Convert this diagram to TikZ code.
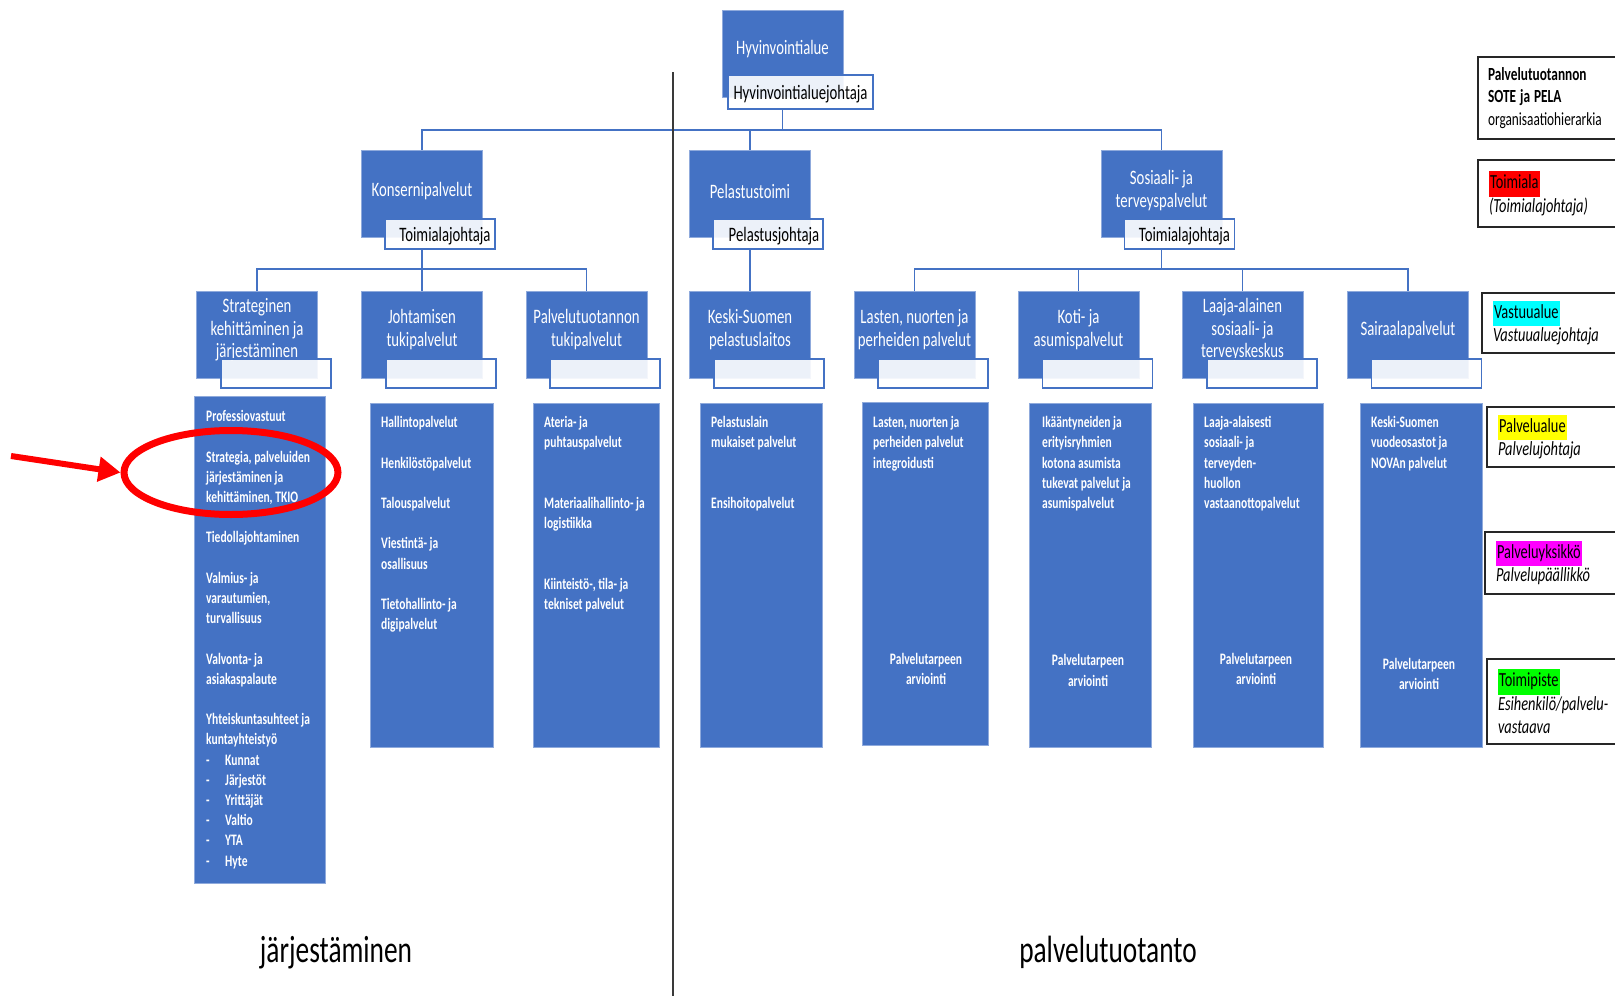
\documentclass[tikz,border=0pt]{standalone}
\usepackage{fontspec}
\setmainfont{Carlito}[FakeStretch=0.72]
\usetikzlibrary{shapes.geometric,arrows.meta,backgrounds}
\definecolor{ofblue}{HTML}{4472C4}
\definecolor{edgeblue}{HTML}{8FAADC}
\definecolor{divgray}{HTML}{3A3A3A}
\definecolor{hlred}{HTML}{FF0000}
\definecolor{hlcyan}{HTML}{00FFFF}
\definecolor{hlyellow}{HTML}{FFFF00}
\definecolor{hlmag}{HTML}{FF00FF}
\definecolor{hlgreen}{HTML}{00FF00}
\definecolor{ringred}{HTML}{FF0000}
\newcommand{\ttlfnt}{\fontsize{20.5}{22.5}\selectfont}
\newcommand{\colfnt}{\fontsize{16}{20.2}\selectfont\bfseries}
\newcommand{\legfnt}{\fontsize{20}{23.5}\selectfont}
\newcommand{\legfntA}{\fontsize{18.5}{22.5}\selectfont}
\newcommand{\botfnt}{\fontsize{38}{44}\selectfont}
\newcommand{\hlt}[2]{{\setlength{\fboxsep}{1pt}\colorbox{#1}{\strut#2}}}
\newcommand{\dashitem}[1]{\makebox[19pt][l]{-}#1}
\begin{document}
\begin{tikzpicture}[x=1pt,y=-1pt,
  bluebox/.style={fill=ofblue, draw=edgeblue, line width=0.8pt, inner sep=0pt, outer sep=0pt},
  lvbox/.style={bluebox, minimum width=121pt, minimum height=87pt},
  boxtitle/.style={text=white, font=\ttlfnt, align=center, inner sep=0pt},
  subbox/.style={fill=white, fill opacity=0.9, text opacity=1, draw=ofblue, line width=1.3pt,
     inner sep=0pt, outer sep=0pt, minimum width=110pt, minimum height=29pt, font=\ttlfnt, text=black,
     text height=19pt, text depth=4pt},
  conn/.style={draw=ofblue, line width=1.3pt},
  coltext/.style={text=white, font=\colfnt, align=left, inner sep=0pt, anchor=north west},
  colcenter/.style={text=white, font=\colfnt, align=center, inner sep=0pt},
  legbox/.style={draw=black!85, line width=1.6pt, fill=white, inner ysep=0pt, inner xsep=11pt,
     align=left, font=\legfnt, text=black},
  bottomlabel/.style={font=\botfnt, text=black, inner sep=0pt, anchor=base},
  divider/.style={draw=divgray, line width=1.8pt},
  ring/.style={draw=ringred, line width=7pt, ellipse, inner sep=0pt, minimum width=214pt, minimum height=84pt},
  redarrow/.style={draw=ringred, line width=6pt, -{Triangle[length=22pt,width=24pt]}}
]
\useasboundingbox (0,0) rectangle (1615,996);
\clip (0,0) rectangle (1615,996);

% ---------- top ----------
\node[lvbox] (top) at (782.5,53.5) {};
\node[boxtitle] (toptitle) at (782.5,49) {Hyvinvointialue};
\node[subbox, minimum width=145pt, minimum height=34pt] (topsub) at (800.5,92) {Hyvinvointialuejohtaja};

% ---------- level 2 ----------
\node[lvbox] (konserni) at (422,193.5) {};
\node[boxtitle] (konsernit) at (422,191) {Konsernipalvelut};
\node[subbox, minimum height=30pt] (konsub) at (440,234) {\hspace*{10pt}Toimialajohtaja};

\node[lvbox] (pelastus) at (750,193.5) {};
\node[boxtitle] (pelastust) at (750,191) {Pelastustoimi};
\node[subbox, minimum height=30pt] (pelsub) at (768,234) {\hspace*{12pt}Pelastusjohtaja};

\node[lvbox] (sosiaali) at (1161.5,193.5) {};
\node[boxtitle] (sosiaalit) at (1161.5,190.5) {Sosiaali- ja\\terveyspalvelut};
\node[subbox, minimum height=30pt] (sossub) at (1179.5,234) {\hspace*{10pt}Toimialajohtaja};

% ---------- level 3 ----------
\node[lvbox] (strat) at (257,334.5) {};
\node[boxtitle] (stratt) at (257,330) {Strateginen\\kehittäminen ja\\järjestäminen};
\node[subbox] (stratsub) at (276,373.5) {};

\node[lvbox] (johto) at (422,334.5) {};
\node[boxtitle] (johtot) at (422,329.5) {Johtamisen\\tukipalvelut};
\node[subbox] (johtosub) at (441,373.5) {};

\node[lvbox] (palvtuki) at (586.5,334.5) {};
\node[boxtitle] (palvtukit) at (586.5,329.5) {Palvelutuotannon\\tukipalvelut};
\node[subbox] (palvtukisub) at (605,373.5) {};

\node[lvbox] (kspel) at (750,334.5) {};
\node[boxtitle] (kspelt) at (750,329.5) {Keski-Suomen\\pelastuslaitos};
\node[subbox] (kspelsub) at (769,373.5) {};

\node[lvbox] (lasten) at (914.5,334.5) {};
\node[boxtitle] (lastent) at (914.5,329.5) {Lasten, nuorten ja\\perheiden palvelut};
\node[subbox] (lastensub) at (933,373.5) {};

\node[lvbox] (koti) at (1078.5,334.5) {};
\node[boxtitle] (kotit) at (1078.5,329.5) {Koti- ja\\asumispalvelut};
\node[subbox] (kotisub) at (1097.5,373.5) {};

\node[lvbox] (laaja) at (1242.5,334.5) {};
\node[boxtitle] (laajat) at (1242.5,330) {Laaja-alainen\\sosiaali- ja\\terveyskeskus};
\node[subbox] (laajasub) at (1262,373.5) {};

\node[lvbox] (sairaala) at (1408,334.5) {};
\node[boxtitle] (sairaalat) at (1408,330) {Sairaalapalvelut};
\node[subbox] (sairaalasub) at (1426.5,373.5) {};

% ---------- connectors ----------
\coordinate (bus1) at (782.5,130);
\coordinate (bus2) at (422,269);
\coordinate (bus3) at (1161.5,269);
\begin{scope}[on background layer]
\draw[conn] (top.center |- topsub.south) -- (bus1) -| (konserni.north);
\draw[conn] (bus1) -| (pelastus.north);
\draw[conn] (bus1) -| (sosiaali.north);
\draw[conn] (konserni.center |- konsub.south) -- (bus2) -| (strat.north);
\draw[conn] (bus2) -| (palvtuki.north);
\draw[conn] (bus2) -- (johto.north);
\draw[conn] (pelastus.center |- pelsub.south) -- (kspel.north);
\draw[conn] (sosiaali.center |- sossub.south) -- (bus3) -| (lasten.north);
\draw[conn] (bus3) -| (koti.north);
\draw[conn] (bus3) -| (laaja.north);
\draw[conn] (bus3) -| (sairaala.north);
\end{scope}

% ---------- columns ----------
\node[bluebox, minimum width=131pt, minimum height=487pt] (c1) at (259.5,639.5) {};
\node[coltext] (c1t) at (206,410.2) {Professiovastuut\\[20.2pt]
Strategia, palveluiden\\järjestäminen ja\\kehittäminen, TKIO\\[20.2pt]
Tiedollajohtaminen\\[20.2pt]
Valmius- ja\\varautumien,\\turvallisuus\\[20.2pt]
Valvonta- ja\\asiakaspalaute\\[20.2pt]
Yhteiskuntasuhteet ja\\kuntayhteistyö\\
\dashitem{Kunnat}\\\dashitem{Järjestöt}\\\dashitem{Yrittäjät}\\\dashitem{Valtio}\\\dashitem{YTA}\\\dashitem{Hyte}};

\node[bluebox, minimum width=123pt, minimum height=344pt] (c2) at (431.5,575) {};
\node[coltext] (c2t) at (381,416.2) {Hallintopalvelut\\[20.2pt]
Henkilöstöpalvelut\\[20.2pt]
Talouspalvelut\\[20.2pt]
Viestintä- ja\\osallisuus\\[20.2pt]
Tietohallinto- ja\\digipalvelut};

\node[bluebox, minimum width=126pt, minimum height=344pt] (c3) at (596,575) {};
\node[coltext] (c3t) at (544,416.2) {Ateria- ja\\puhtauspalvelut\\[40.4pt]
Materiaalihallinto- ja\\logistiikka\\[40.4pt]
Kiinteistö-, tila- ja\\tekniset palvelut};

\node[bluebox, minimum width=122pt, minimum height=344pt] (c4) at (761,575) {};
\node[coltext] (c4t) at (711,416.2) {Pelastuslain\\mukaiset palvelut\\[40.4pt]
Ensihoitopalvelut};

\node[bluebox, minimum width=126pt, minimum height=343pt] (c5) at (925,573.5) {};
\node[coltext] (c5t) at (873,416.2) {Lasten, nuorten ja\\perheiden palvelut\\integroidusti};
\node[colcenter] (c5b) at (926,669) {Palvelutarpeen\\arviointi};

\node[bluebox, minimum width=122pt, minimum height=344pt] (c6) at (1090,575) {};
\node[coltext] (c6t) at (1042,416.2) {Ikääntyneiden ja\\erityisryhmien\\kotona asumista\\tukevat palvelut ja\\asumispalvelut};
\node[colcenter] (c6b) at (1088,670.5) {Palvelutarpeen\\arviointi};

\node[bluebox, minimum width=130pt, minimum height=344pt] (c7) at (1258,575) {};
\node[coltext] (c7t) at (1204,416.2) {Laaja-alaisesti\\sosiaali- ja\\terveyden-\\huollon\\vastaanottopalvelut};
\node[colcenter] (c7b) at (1256,669) {Palvelutarpeen\\arviointi};

\node[bluebox, minimum width=122pt, minimum height=344pt] (c8) at (1421,575) {};
\node[coltext] (c8t) at (1371,416.2) {Keski-Suomen\\vuodeosastot ja\\NOVAn palvelut};
\node[colcenter] (c8b) at (1419,674) {Palvelutarpeen\\arviointi};

% ---------- divider ----------
\coordinate (divtop) at (673,72);
\coordinate (divbot) at (673,1000);
\draw[divider] (divtop) -- (divbot);

% ---------- legend ----------
\node[legbox, font=\legfntA, inner xsep=10pt, text width=152pt, minimum height=82pt] (leg1) at (1564,98)
  {{\bfseries Palvelutuotannon}\\{\bfseries SOTE\hspace{4pt}ja\hspace{4pt}PELA}\\organisaatiohierarkia};
\node[legbox, text width=150pt, minimum height=67pt] (leg2) at (1564,193.5)
  {\hlt{hlred}{Toimiala}\\\textit{(Toimialajohtaja)}};
\node[legbox, text width=146pt, minimum height=60pt] (leg3) at (1566,323)
  {\hlt{hlcyan}{Vastuualue}\\\textit{Vastuualuejohtaja}};
\node[legbox, text width=141pt, minimum height=60pt] (leg4) at (1568.5,437)
  {\hlt{hlyellow}{Palvelualue}\\\textit{Palvelujohtaja}};
\node[legbox, text width=143pt, minimum height=62pt] (leg5) at (1567.5,563)
  {\hlt{hlmag}{Palveluyksikkö}\\\textit{Palvelupäällikkö}};
\node[legbox, text width=141pt, minimum height=85pt] (leg6) at (1568.5,701.5)
  {\hlt{hlgreen}{Toimipiste}\\\textit{Esihenkilö/palvelu-}\\\textit{vastaava}};

% ---------- bottom labels ----------
\node[bottomlabel] (jarj) at (336,962) {järjestäminen};
\node[bottomlabel] (palv) at (1108,962) {palvelutuotanto};

% ---------- red highlight ----------
\node[ring] (ringnode) at (231,472.5) {};
\coordinate (arrstart) at (11,456);
\draw[redarrow] (arrstart) -- (ringnode.west);
\end{tikzpicture}
\end{document}
